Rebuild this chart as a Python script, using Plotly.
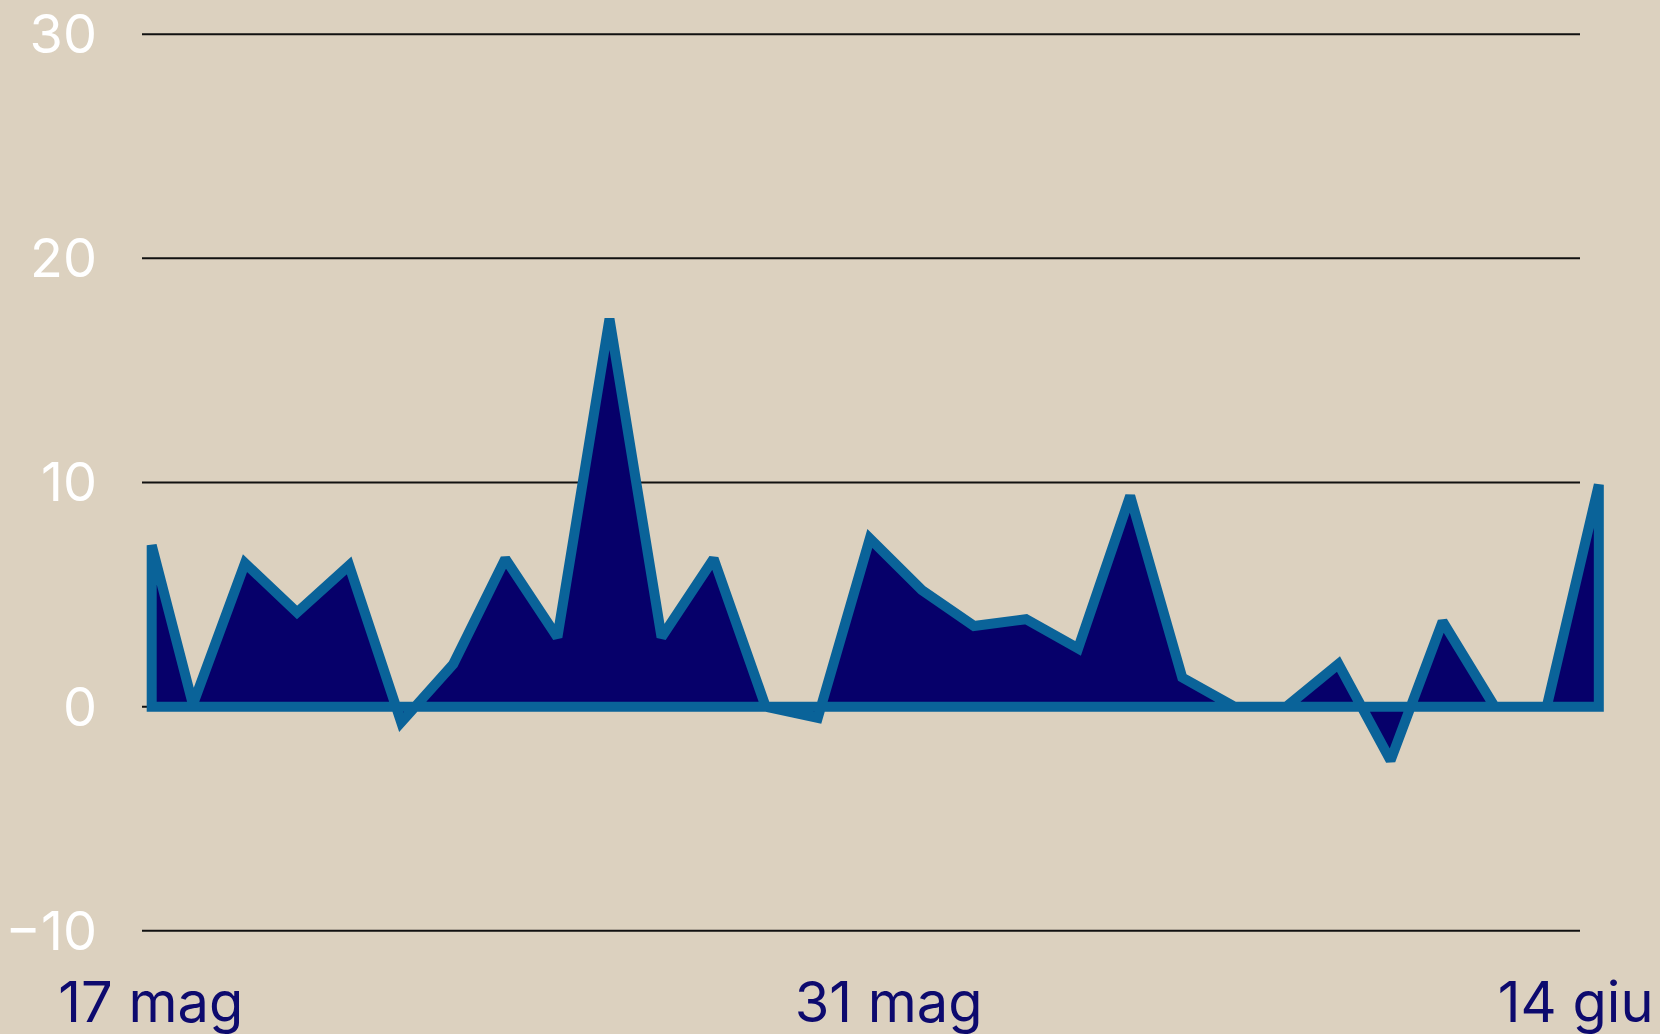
import plotly.graph_objects as go
from datetime import datetime, timedelta

# ---- data ----
dates = [
    "2025-05-17 00:00", "2025-05-17 19:00", "2025-05-18 19:00", "2025-05-19 19:00",
    "2025-05-20 19:00", "2025-05-21 19:00", "2025-05-22 19:00", "2025-05-23 19:00",
    "2025-05-24 19:00", "2025-05-25 19:00", "2025-05-26 19:00", "2025-05-27 19:00",
    "2025-05-28 19:00", "2025-05-29 19:00", "2025-05-30 19:00", "2025-05-31 19:00",
    "2025-06-01 19:00", "2025-06-02 19:00", "2025-06-03 19:00", "2025-06-04 19:00",
    "2025-06-05 19:00", "2025-06-06 19:00", "2025-06-07 19:00", "2025-06-08 19:00",
    "2025-06-09 19:00", "2025-06-10 19:00", "2025-06-11 19:00", "2025-06-12 19:00",
    "2025-06-13 19:00",
]
values = [
    7.2, 0.1, 6.4, 4.2, 6.3, -0.7, 1.9, 6.6, 3.1, 17.3,
    3.1, 6.6, 0.0, -0.5, 7.5, 5.2, 3.6, 3.9, 2.6, 9.4,
    1.3, 0.0, 0.0, 1.9, -2.4, 3.8, 0.0, 0.0, 9.9,
]
y_ticks = [-10, 0, 10, 20, 30]
y_tick_labels = ["\u221210", "0", "10", "20", "30"]
x_ticks = ["2025-05-17", "2025-05-31", "2025-06-14"]
x_tick_labels = ["17 mag", "31 mag", "14 giu"]

# ---- style / layout ----
BG = "#dcd1bf"
FILL = "#06006a"
LINE = "#0a6399"
XLAB = "#0d0a6e"
FONT = "Inter, Lato, sans-serif"
FSX = 56
FSY = 54

W, H = 1660, 1034
L, R = 142, 1620           # plot area left/right (px)
first_px = 151.7            # pixel of first date
px_per_day = 52.07
grid_end_px = 1580
label_centers_px = [151, 889, 1576]   # where each x label sits in the reference

t0 = datetime.strptime(dates[0], "%Y-%m-%d %H:%M")
x_start = t0 - timedelta(days=(first_px - L) / px_per_day)
x_end = x_start + timedelta(days=(R - L) / px_per_day)

y_range = [-10.5, 30.5]
px_per_unit = 22.42
y30_px = 34
top_px = y30_px - (y_range[1] - 30) * px_per_unit
bottom_px = top_px + (y_range[1] - y_range[0]) * px_per_unit

# closed outline: baseline -> series -> baseline, re-tracing the first edge
poly_x = [dates[0]] + dates + [dates[-1], dates[0], dates[0]]
poly_y = [0] + values + [0, 0, values[0]]

fig = go.Figure()
fig.add_trace(go.Scatter(
    x=poly_x, y=poly_y, mode="lines", fill="toself",
    fillcolor=FILL, line=dict(color=LINE, width=10, simplify=False),
    hoverinfo="skip", showlegend=False,
))

shapes = []
for v in y_ticks:
    shapes.append(dict(
        type="line", xref="paper", yref="y", x0=0,
        x1=(grid_end_px - L) / (R - L), y0=v, y1=v,
        line=dict(color="#111111", width=2), layer="below",
    ))

xcommon = dict(
    type="date", showgrid=False, zeroline=False, showline=False, ticks="",
    tickfont=dict(family=FONT, size=FSX, color=XLAB), tickmode="array",
    ticklabelstandoff=23, automargin=False, ticklabeloverflow="allow",
)

axes = {}
for i, (tv, tt, cpx) in enumerate(zip(x_ticks, x_tick_labels, label_centers_px)):
    tick_px = first_px + (datetime.strptime(tv, "%Y-%m-%d") - t0).days * px_per_day
    shift = int(round(cpx - tick_px))
    name = "xaxis" if i == 0 else f"xaxis{i + 1}"
    ax = dict(tickvals=[tv], ticktext=[tt], ticklabelshift=shift, **xcommon)
    if i == 0:
        ax["range"] = [x_start, x_end]
    else:
        ax.update(overlaying="x", matches="x", anchor="y", side="bottom")
        fig.add_trace(go.Scatter(
            x=dates, y=values, mode="none", xaxis=f"x{i + 1}", yaxis="y",
            hoverinfo="skip", showlegend=False,
        ))
    axes[name] = ax

fig.update_layout(
    width=W, height=H,
    margin=dict(l=L, r=W - R, t=top_px, b=H - bottom_px, pad=0),
    paper_bgcolor=BG, plot_bgcolor=BG,
    shapes=shapes,
    hovermode=False,
    yaxis=dict(
        range=y_range, tickmode="array", tickvals=y_ticks, ticktext=y_tick_labels,
        showgrid=False, zeroline=False, showline=False, ticks="",
        tickfont=dict(family=FONT, size=FSY, color="#ffffff"),
        ticklabelstandoff=44, automargin=False, ticklabeloverflow="allow",
    ),
    **axes,
)

fig.write_html(
    "out.html",
    config={"displayModeBar": False, "staticPlot": True},
    post_script="document.body.style.margin='0';document.body.style.overflow='hidden';",
)
